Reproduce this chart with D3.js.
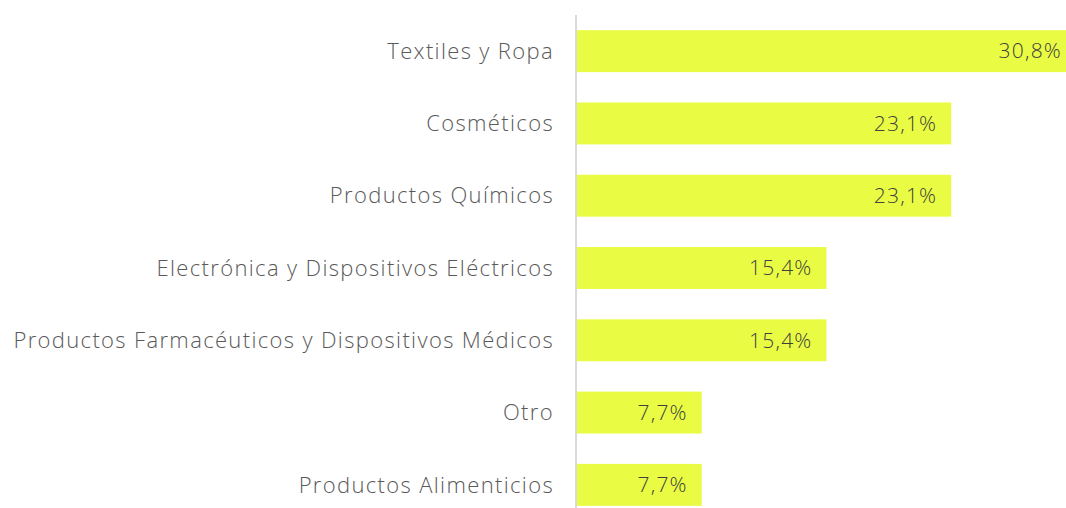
<!DOCTYPE html>
<html><head><meta charset="utf-8">
<script src="https://cdn.jsdelivr.net/npm/d3@7"></script>
<style>html,body{margin:0;padding:0;background:#fff;overflow:hidden}</style>
</head><body>
<svg id="chart" width="1066" height="508"></svg>
<script>
const categories = ["Textiles y Ropa","Cosméticos","Productos Químicos","Electrónica y Dispositivos Eléctricos","Productos Farmacéuticos y Dispositivos Médicos","Otro","Productos Alimenticios"];
const values = [30.8, 23.1, 23.1, 15.4, 15.4, 7.7, 7.7];
const valueLabels = ["30,8%","23,1%","23,1%","15,4%","15,4%","7,7%","7,7%"];

const W = 1066, H = 508;
const svg = d3.select("#chart");
const x0 = 577;
const x = d3.scaleLinear().domain([0, 30.8]).range([x0, x0 + 499]);
const y = d3.scaleBand().domain(categories).range([15, 521]).paddingInner(0.42).paddingOuter(0.21);
const font = "'Open Sans', sans-serif";

svg.selectAll("rect.bar").data(categories).join("rect")
  .attr("class","bar")
  .attr("x", x(0))
  .attr("y", d => y(d))
  .attr("width", (d,i) => x(values[i]) - x(0))
  .attr("height", y.bandwidth())
  .attr("fill", "#e9fc43");

svg.append("line").attr("x1", x0 - 1).attr("x2", x0 - 1).attr("y1", 15).attr("y2", H)
  .attr("stroke", "#d9d9d9").attr("stroke-width", 2);

svg.selectAll("text.cat").data(categories).join("text")
  .attr("class","cat")
  .attr("x", x0 - 23)
  .attr("y", d => y(d) + y.bandwidth()/2)
  .attr("dy", "0.35em")
  .attr("text-anchor", "end")
  .attr("font-family", font)
  .attr("font-weight", 300)
  .attr("font-size", 22)
  .attr("letter-spacing", "1.35px")
  .attr("fill", "#595959")
  .text(d => d);

svg.selectAll("text.val").data(categories).join("text")
  .attr("class","val")
  .attr("x", (d,i) => x(values[i]) - 14)
  .attr("y", d => y(d) + y.bandwidth()/2)
  .attr("dy", "0.35em")
  .attr("text-anchor", "end")
  .attr("font-family", font)
  .attr("font-weight", 300)
  .attr("font-size", 21)
  .attr("letter-spacing", "1.2px")
  .attr("fill", "#404040")
  .text((d,i) => valueLabels[i]);
</script>
</body></html>
